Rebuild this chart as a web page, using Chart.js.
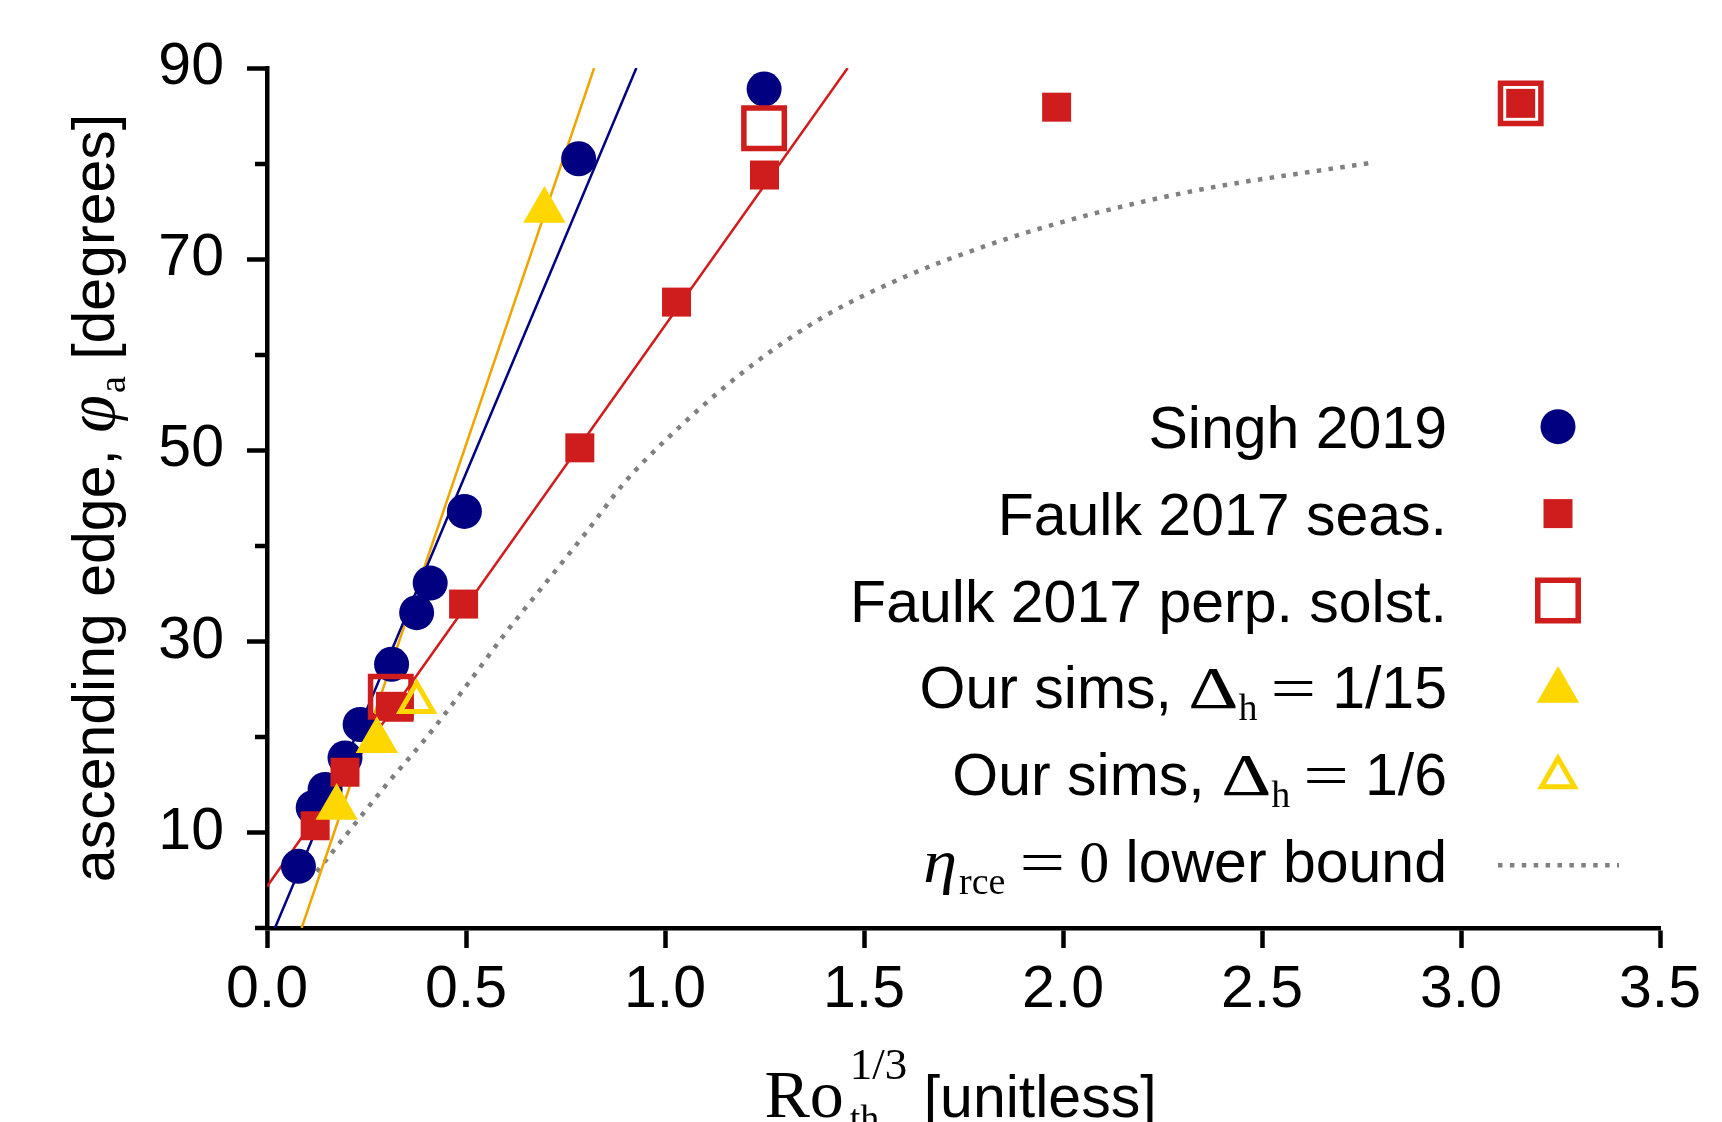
<!DOCTYPE html>
<html>
<head>
<meta charset="utf-8">
<script src="https://cdn.jsdelivr.net/npm/chart.js@4.4.1/dist/chart.umd.min.js"></script>
<style>
  html, body { margin: 0; padding: 0; background: #fff; }
  canvas { display: block; }
</style>
</head>
<body>
<canvas id="chart" width="1722" height="1122"></canvas>
<script>
// series labels (plain form; the legend below draws them with sub/superscripts)
const seriesLabels = [
  "Singh 2019",
  "Faulk 2017 seas.",
  "Faulk 2017 perp. solst.",
  "Our sims, Δh = 1/15",
  "Our sims, Δh = 1/6",
  "ηrce = 0 lower bound",
];

// Singh 2019
const singhX = [0.079, 0.116, 0.146, 0.196, 0.234, 0.313, 0.376, 0.410, 0.496, 0.783, 1.249];
const singhY = [6.45, 12.6, 14.5, 17.8, 21.3, 27.6, 33.0, 36.1, 43.6, 80.5, 87.8];

// Faulk 2017 seasonal
const faulkSeasX = [0.121, 0.196, 0.310, 0.332, 0.494, 0.786, 1.029, 1.250, 1.984, 3.150];
const faulkSeasY = [10.7, 16.3, 23.2, 23.1, 33.9, 50.25, 65.5, 78.8, 85.9, 86.3];

// Faulk 2017 perpetual solstice
const faulkPerpX = [0.311, 1.249, 3.150];
const faulkPerpY = [24.2, 83.7, 86.3];

// our sims
const sims15X = [0.175, 0.276, 0.697];
const sims15Y = [12.6, 19.6, 75.1];
const sims6X = [0.376];
const sims6Y = [23.65];

// fit lines (end points)
const singhFitX = [0.020, 0.928];
const singhFitY = [0, 90];
const faulkFitX = [0, 1.459];
const faulkFitY = [4.35, 90];
const simsFitX = [0.087, 0.822];
const simsFitY = [0, 90];

// eta_rce = 0 lower bound
const boundX = [0.125, 0.2, 0.3, 0.4, 0.5, 0.6, 0.7, 0.8, 0.9, 1.0, 1.2, 1.4, 1.6, 1.8, 2.0, 2.2, 2.4, 2.6, 2.78];
const boundY = [5.9, 9.8, 15.0, 19.9, 25.3, 30.9, 36.1, 41.3, 46.7, 51.0, 58.3, 64.0, 68.1, 71.3, 73.9, 76.0, 77.7, 79.0, 80.1];

// axis ticks
const yTickLabels = [10, 30, 50, 70, 90];
const yMinorTicks = [0, 20, 40, 60, 80];

const NAVY = "#000080";
const RED = "#cf1c1c";
const GOLD = "#ffd700";
const ORANGE = "#eda600";
const GREY = "#808080";

const SANS = '59px "Liberation Sans", Arial, sans-serif';
const SERIF = '60px "Liberation Serif", "DejaVu Serif", serif';
const SERIF_BIG = '68px "Liberation Serif", "DejaVu Serif", serif';
const SERIF_I = 'italic 62px "Liberation Serif", "DejaVu Serif", serif';
const PHI = 'italic 68px "Liberation Serif", "DejaVu Serif", serif';
const SUB = '38px "Liberation Serif", "DejaVu Serif", serif';
const SUP = '45px "Liberation Serif", "DejaVu Serif", serif';

// rich text pieces: [text, font, dy, {sx, gap, noAdvance}]
const xTitleParts = [
  ["Ro", SERIF_BIG, 0],
  ["th", SUB, 14, { gap: 6, noAdvance: true }],
  ["1/3", SUP, -38, { gap: 6 }],
  [" [unitless]", SANS, 0],
];
const yTitleParts = [
  ["ascending edge, ", SANS, 0],
  ["φ", PHI, 0],
  ["a", SUB, 11, { gap: 2 }],
  [" [degrees]", SANS, 0],
];
const legendParts = [
  [["Singh 2019", SANS, 0]],
  [["Faulk 2017 seas.", SANS, 0]],
  [["Faulk 2017 perp. solst.", SANS, 0]],
  [["Our sims, ", SANS, 0], ["Δ", SERIF, 0, { sx: 1.3 }], ["h", SUB, 12], ["=", SERIF, 0, { sx: 1.35, gap: 13 }], ["1/15", SANS, 0, { gap: 16 }]],
  [["Our sims, ", SANS, 0], ["Δ", SERIF, 0, { sx: 1.3 }], ["h", SUB, 12], ["=", SERIF, 0, { sx: 1.35, gap: 13 }], ["1/6", SANS, 0, { gap: 16 }]],
  [["η", SERIF_I, 0, { sx: 1.1 }], ["rce", SUB, 12, { gap: 2 }], ["=", SERIF, 0, { sx: 1.35, gap: 14 }], ["0", SERIF, 0, { gap: 14 }], [" lower bound", SANS, 0]],
];
// dataset index shown in each legend row
const legendDatasets = [4, 2, 3, 1, 0, 8];

function pts(xs, ys) {
  return xs.map((x, i) => ({ x: x, y: ys[i] }));
}

function partWidth(c, p) {
  const o = p[3] || {};
  c.font = p[1];
  return c.measureText(p[0]).width * (o.sx || 1);
}

function drawRich(c, parts, x, y, align) {
  let w = 0;
  parts.forEach((p) => {
    const o = p[3] || {};
    w += (o.gap || 0);
    if (!o.noAdvance) w += partWidth(c, p);
  });
  let cx = align === "right" ? x - w : align === "center" ? x - w / 2 : x;
  parts.forEach((p) => {
    const o = p[3] || {};
    const pw = partWidth(c, p);
    c.save();
    c.font = p[1];
    c.translate(cx + (o.gap || 0), y + p[2]);
    c.scale(o.sx || 1, 1);
    c.fillText(p[0], 0, 0);
    c.restore();
    if (!o.noAdvance) cx += pw + (o.gap || 0);
  });
}

const extras = {
  id: "extras",
  afterDraw(chart) {
    const c = chart.ctx;
    const ca = chart.chartArea;
    const yScale = chart.scales.y;
    c.save();

    // short minor ticks on the y axis
    c.strokeStyle = "#000";
    c.lineWidth = 4.5;
    c.lineCap = "butt";
    yMinorTicks.forEach((v) => {
      const py = Math.round(yScale.getPixelForValue(v));
      c.beginPath();
      c.moveTo(ca.left - 12, py);
      c.lineTo(ca.left, py);
      c.stroke();
    });

    c.fillStyle = "#000";
    c.textBaseline = "alphabetic";

    // axis titles
    drawRich(c, xTitleParts, (ca.left + ca.right) / 2, ca.bottom + 189, "center");
    c.save();
    c.translate(ca.left - 153, (ca.top + ca.bottom) / 2);
    c.rotate(-Math.PI / 2);
    drawRich(c, yTitleParts, 0, 0, "center");
    c.restore();

    // legend
    const textRight = ca.right - 213;
    const markX = ca.right - 102;
    legendParts.forEach((parts, i) => {
      const rowY = ca.top + 358.7 + i * 86.9;
      c.fillStyle = "#000";
      drawRich(c, parts, textRight, rowY + 21, "right");
      const ds = chart.data.datasets[legendDatasets[i]];
      if (ds.showLine) {
        c.save();
        c.strokeStyle = ds.borderColor;
        c.lineWidth = ds.borderWidth;
        c.setLineDash(ds.borderDash);
        c.beginPath();
        c.moveTo(markX - 60, rowY + 4);
        c.lineTo(markX + 61, rowY + 4);
        c.stroke();
        c.restore();
      } else {
        c.save();
        c.fillStyle = ds.pointBackgroundColor;
        c.strokeStyle = ds.pointBorderColor;
        c.lineWidth = ds.pointBorderWidth;
        Chart.helpers.drawPoint(c, {
          pointStyle: ds.pointStyle,
          rotation: 0,
          radius: ds.pointRadius,
          borderWidth: ds.pointBorderWidth,
        }, markX, rowY + (ds.pointStyle === "triangle" ? 3 : 0));
        c.restore();
      }
    });
    c.restore();
  },
};

const ctx = document.getElementById("chart");
new Chart(ctx, {
  type: "scatter",
  data: {
    datasets: [
      {
        label: seriesLabels[4],
        data: pts(sims6X, sims6Y),
        pointStyle: "triangle",
        pointRadius: 19,
        pointBorderWidth: 5,
        pointBorderColor: GOLD,
        pointBackgroundColor: "rgba(0,0,0,0)",
        order: 1,
      },
      {
        label: seriesLabels[3],
        data: pts(sims15X, sims15Y),
        pointStyle: "triangle",
        pointRadius: 24.5,
        pointBorderWidth: 0,
        pointBorderColor: GOLD,
        pointBackgroundColor: GOLD,
        order: 2,
      },
      {
        label: seriesLabels[1],
        data: pts(faulkSeasX, faulkSeasY),
        pointStyle: "rect",
        pointRadius: 20.5,
        pointBorderWidth: 0,
        pointBorderColor: RED,
        pointBackgroundColor: RED,
        order: 3,
      },
      {
        label: seriesLabels[2],
        data: pts(faulkPerpX, faulkPerpY),
        pointStyle: "rect",
        pointRadius: 28.6,
        pointBorderWidth: 5.5,
        pointBorderColor: RED,
        pointBackgroundColor: "rgba(0,0,0,0)",
        order: 4,
      },
      {
        label: seriesLabels[0],
        data: pts(singhX, singhY),
        pointStyle: "circle",
        pointRadius: 17.5,
        pointBorderWidth: 0,
        pointBorderColor: NAVY,
        pointBackgroundColor: NAVY,
        order: 5,
      },
      {
        label: "Singh fit",
        data: pts(singhFitX, singhFitY),
        showLine: true,
        pointRadius: 0,
        borderColor: NAVY,
        borderWidth: 2.5,
        order: 6,
      },
      {
        label: "Faulk fit",
        data: pts(faulkFitX, faulkFitY),
        showLine: true,
        pointRadius: 0,
        borderColor: RED,
        borderWidth: 2.5,
        order: 7,
      },
      {
        label: "sims fit",
        data: pts(simsFitX, simsFitY),
        showLine: true,
        pointRadius: 0,
        borderColor: ORANGE,
        borderWidth: 2.5,
        order: 8,
      },
      {
        label: seriesLabels[5],
        data: pts(boundX, boundY),
        showLine: true,
        pointRadius: 0,
        borderColor: GREY,
        borderWidth: 4.5,
        borderDash: [4.5, 7.4],
        borderCapStyle: "butt",
        cubicInterpolationMode: "monotone",
        order: 9,
      },
    ],
  },
  options: {
    responsive: false,
    animation: false,
    events: [],
    layout: { padding: { top: 68, right: 62, left: 0, bottom: 0 } },
    plugins: {
      legend: { display: false },
      tooltip: { enabled: false },
    },
    scales: {
      x: {
        type: "linear",
        min: 0,
        max: 3.5,
        ticks: {
          stepSize: 0.5,
          padding: 7,
          color: "#000",
          maxRotation: 0,
          autoSkip: false,
          font: { family: "Liberation Sans", size: 59 },
          callback: (v) => v.toFixed(1),
        },
        grid: {
          drawOnChartArea: false,
          drawTicks: true,
          tickLength: 20,
          tickWidth: 4.5,
          tickColor: "#000",
        },
        border: { display: true, width: 4.5, color: "#000" },
        afterFit: (s) => { s.height = 194; },
      },
      y: {
        type: "linear",
        min: 0,
        max: 90,
        ticks: {
          stepSize: 10,
          padding: 23,
          color: "#000",
          autoSkip: false,
          font: { family: "Liberation Sans", size: 59 },
          callback: (v) => (yTickLabels.includes(v) ? String(v) : ""),
        },
        grid: {
          drawOnChartArea: false,
          drawTicks: true,
          tickLength: 20,
          tickWidth: 4.5,
          tickColor: (c) => (c.tick && yTickLabels.includes(c.tick.value) ? "#000" : "rgba(0,0,0,0)"),
        },
        border: { display: true, width: 4.5, color: "#000" },
        afterFit: (s) => { s.width = 267; },
      },
    },
  },
  plugins: [extras],
});
</script>
</body>
</html>
